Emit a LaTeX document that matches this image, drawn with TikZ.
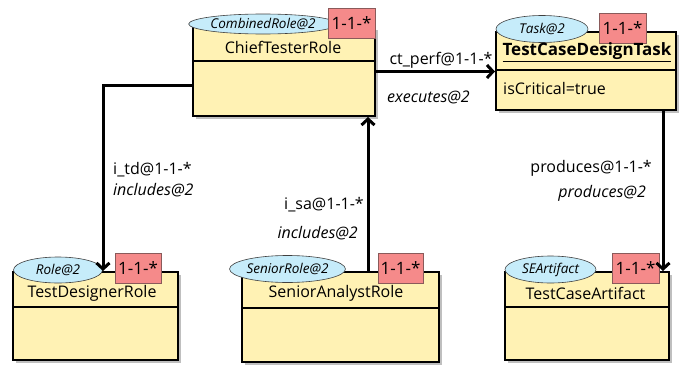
\documentclass[tikz,border=0pt]{standalone}
\usepackage{fontspec}
\setmainfont{Open Sans}
\usetikzlibrary{arrows.meta,shadows,shapes.geometric}
\definecolor{classfill}{HTML}{FFF2B4}
\definecolor{stereofill}{HTML}{C6ECFA}
\definecolor{badgefill}{HTML}{F58A8A}
\definecolor{badgeline}{HTML}{8A5A5A}
\begin{document}
\begin{tikzpicture}[x=1pt,y=-1pt,
  classbox/.style={draw=black, line width=2pt, fill=classfill, inner sep=0pt,
    drop shadow={shadow xshift=3pt, shadow yshift=-3pt, fill=black!25, opacity=1}},
  stereo/.style={ellipse, draw=black!75, line width=0.6pt, fill=stereofill, inner sep=0pt,
    font=\fontsize{13.5}{14}\selectfont\itshape},
  badge/.style={draw=badgeline, line width=0.7pt, fill=badgefill, inner sep=0pt,
    minimum width=47pt, minimum height=30pt, font=\fontsize{17}{17}\selectfont},
  title/.style={inner sep=0pt, font=\fontsize{16}{16}\selectfont},
  lbl/.style={inner sep=0pt, font=\fontsize{16}{16}\selectfont},
  ilbl/.style={lbl, font=\fontsize{16}{16}\selectfont\itshape},
  divider/.style={line width=2pt},
  rel/.style={line width=3pt, -{Straight Barb[length=6pt,width=13pt,line width=3pt]}}]
\useasboundingbox (0,0) rectangle (685,364);

% class boxes
\node[classbox, minimum width=182pt, minimum height=89pt] (chief) at (284,71.5) {};
\node[classbox, minimum width=180pt, minimum height=78pt] (task) at (586,71) {};
\node[classbox, minimum width=165pt, minimum height=88pt] (designer) at (95.5,316) {};
\node[classbox, minimum width=197pt, minimum height=90pt] (senior) at (340.5,317) {};
\node[classbox, minimum width=164pt, minimum height=88pt] (artifact) at (587,316) {};

% compartment dividers
\draw[divider] ([yshift=-35pt]chief.north west) -- ([yshift=-35pt]chief.north east);
\draw[divider] ([yshift=-39pt]task.north west) -- ([yshift=-39pt]task.north east);
\draw[divider] ([yshift=-36pt]designer.north west) -- ([yshift=-36pt]designer.north east);
\draw[divider] ([yshift=-37pt]senior.north west) -- ([yshift=-37pt]senior.north east);
\draw[divider] ([yshift=-36pt]artifact.north west) -- ([yshift=-36pt]artifact.north east);

% stereotype ellipses
\node[stereo, minimum width=127pt, minimum height=20pt] (chiefst) at (263,24) {CombinedRole@2};
\node[stereo, minimum width=92pt, minimum height=27pt] (taskst) at (542,29) {Task@2};
\node[stereo, minimum width=89pt, minimum height=26pt] (designerst) at (58,270) {Role@2};
\node[stereo, minimum width=91pt, minimum height=27pt] (seniorst) at (287.5,269) {SeniorRole@2};
\node[stereo, minimum width=91pt, minimum height=27pt] (artifactst) at (550.5,269.5) {SEArtifact};

% multiplicity badges
\node[badge] (chiefmul) at (351.5,23) {1-1-*};
\node[badge] (taskmul) at (622.5,28) {1-1-*};
\node[badge, minimum width=46pt] (designermul) at (138,268) {1-1-*};
\node[badge, minimum width=45pt] (seniormul) at (400.5,268) {1-1-*};
\node[badge] (artifactmul) at (635.5,268) {1-1-*};

% class names and attributes
\node[title] (chiefname) at (283,47) {ChiefTesterRole};
\node[title] (taskname) at (587,52) {\fontsize{17}{17}\selectfont\underline{\textbf{TestCaseDesignTask}}};
\node[title, anchor=west] (taskattr) at (503,88) {isCritical=true};
\node[title] (designername) at (92,293) {TestDesignerRole};
\node[title] (seniorname) at (336,293) {SeniorAnalystRole};
\node[title] (artifactname) at (585.5,293) {TestCaseArtifact};

% relations
\draw[rel] (chief.east) -- (chief.east -| task.west);
\node[lbl] (perf) at (441,60) {ct\_perf@1-1-*};
\node[ilbl, anchor=west] (perfrole) at (387,97) {executes@2};

\draw[rel] ([yshift=-13.5pt]chief.west) -| ([xshift=7.5pt]designer.north);
\node[lbl, anchor=west] (td) at (113,170) {i\_td@1-1-*};
\node[ilbl, anchor=west] (tdrole) at (113,190) {includes@2};

\draw[rel] ([xshift=27.5pt]senior.north) -- ([xshift=27.5pt]senior.north |- chief.south);
\node[lbl, anchor=east] (sa) at (364,205) {i\_sa@1-1-*};
\node[ilbl, anchor=east] (sarole) at (358,233) {includes@2};

\draw[rel] ([xshift=77pt]task.south) -- ([xshift=77pt]task.south |- artifact.north);
\node[lbl, anchor=east] (prod) at (652,168) {produces@1-1-*};
\node[ilbl, anchor=east] (prodrole) at (646,193) {produces@2};
\end{tikzpicture}
\end{document}
